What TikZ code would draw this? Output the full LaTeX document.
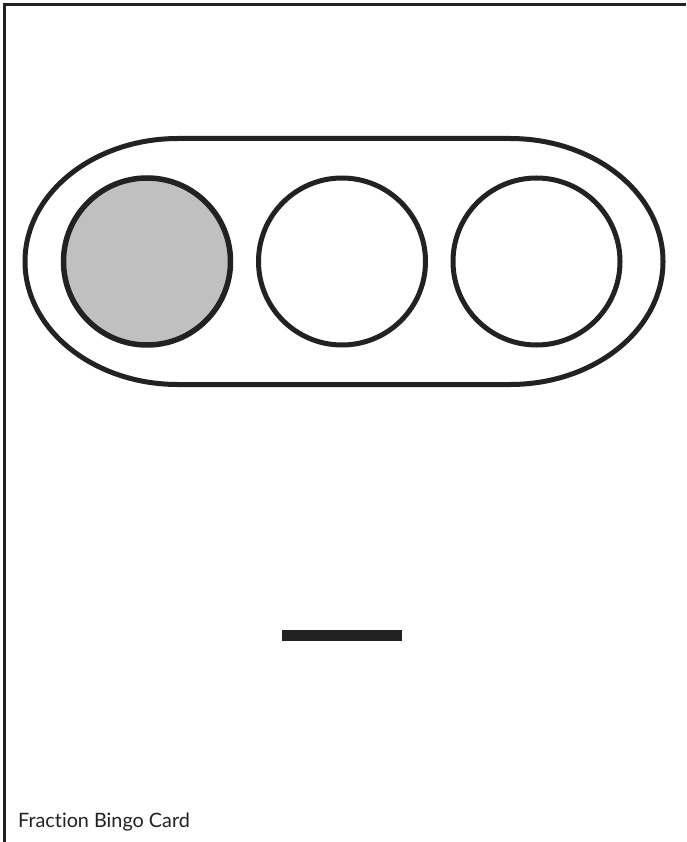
\documentclass[tikz,border=0pt]{standalone}
\usepackage{fontspec}
\setmainfont{Lato}[Ligatures=NoCommon]
\definecolor{ink}{HTML}{222222}
\definecolor{chip}{HTML}{C0C0C0}
\begin{document}
\begin{tikzpicture}[x=1pt,y=-1pt,
  frame/.style={draw=ink,line width=3pt},
  capsule/.style={draw=ink,line width=5pt},
  slot/.style={circle,draw=ink,line width=5pt,minimum size=167pt,inner sep=0pt},
  label/.style={font=\fontsize{19.8}{22}\selectfont,text=ink,anchor=base west,inner sep=0pt}]
\useasboundingbox (0,0) rectangle (686,842);
\fill[white] (0,0) rectangle (686,842);
\draw[frame] (4.5,842) -- (4.5,4.5) -- (686,4.5);
\draw[capsule] (178,138.5) -- (510,138.5) arc[start angle=90,end angle=-90,x radius=153pt,y radius=123pt]
  -- (178,384.5) arc[start angle=270,end angle=90,x radius=153pt,y radius=123pt] -- cycle;
\node[slot,fill=chip,line width=5.5pt] (c1) at (147,261.5) {};
\node[slot] (c2) at (342,261.5) {};
\node[slot] (c3) at (536.5,261.5) {};
\fill[ink] (282,630) rectangle (402,641);
\node[label] (t) at (18,827) {Fraction Bingo Card};
\end{tikzpicture}
\end{document}
